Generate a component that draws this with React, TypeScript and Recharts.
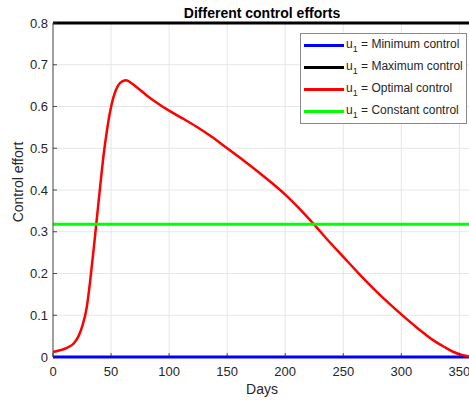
import { LineChart, Line, XAxis, YAxis, CartesianGrid } from 'recharts'

// control effort u1 over the season
const optimalDays = [0, 6, 12, 18, 22, 25, 29, 32, 35, 38, 41, 43.5, 46.5, 49, 52, 56, 60, 63, 67, 74, 81, 90, 100, 112, 124, 137, 150, 163, 176, 188, 200, 212, 224, 237, 250, 263, 276, 288, 300, 314, 327, 337, 345, 352, 357, 360]
const optimalValues = [0.012, 0.016, 0.022, 0.033, 0.05, 0.072, 0.118, 0.182, 0.258, 0.338, 0.418, 0.482, 0.543, 0.585, 0.622, 0.65, 0.661, 0.663, 0.657, 0.642, 0.626, 0.608, 0.59, 0.571, 0.551, 0.527, 0.5, 0.473, 0.445, 0.418, 0.389, 0.356, 0.32, 0.279, 0.24, 0.201, 0.164, 0.132, 0.102, 0.069, 0.041, 0.024, 0.012, 0.005, 0.002, 0]

const spanDays = [0, 360]
const minimumControl = 0
const maximumControl = 0.8
const constantControl = 0.318

const xTicks = [0, 50, 100, 150, 200, 250, 300, 350]
const yTicks = [0, 0.1, 0.2, 0.3, 0.4, 0.5, 0.6, 0.7, 0.8]

const legendItems = [
    { label: 'Minimum control', color: '#0000ff' },
    { label: 'Maximum control', color: '#000000' },
    { label: 'Optimal control', color: '#ff0000' },
    { label: 'Constant control', color: '#00ff00' },
]

const optimalData = optimalDays.map((day, i) => ({ day, u: optimalValues[i] }))
const flat = (v: number) => spanDays.map(day => ({ day, u: v }))

const FONT = '"Liberation Sans", Arial, Helvetica, sans-serif'
const AXIS = '#262626'

const YTick = (props: any) => {
    const { x, y, payload } = props
    return (
        <g>
            <line x1={x} x2={x + 4} y1={y} y2={y} stroke={AXIS} strokeWidth={0.8} />
            <text x={x - 5} y={y} dy={4.5} textAnchor="end" fontSize={13} fill={AXIS} fontFamily={FONT}>
                {payload.value === 0 ? '0' : payload.value.toFixed(1)}
            </text>
        </g>
    )
}

const XTick = (props: any) => {
    const { x, y, payload } = props
    return (
        <g>
            <line x1={x} x2={x} y1={y} y2={y - 4} stroke={AXIS} strokeWidth={0.8} />
            <text x={x} y={y} dy={19} textAnchor="middle" fontSize={13} fill={AXIS} fontFamily={FONT}>
                {payload.value}
            </text>
        </g>
    )
}

const LegendBox = () => (
    <div
        style={{
            position: 'absolute',
            left: 300,
            top: 33,
            width: 165,
            height: 89,
            border: '1px solid #8a8a8a',
            background: '#fff',
            fontFamily: FONT,
            fontSize: 12,
            color: AXIS,
        }}
    >
        {legendItems.map((item, i) => (
            <div key={i} style={{ position: 'relative', height: 22, marginTop: i === 0 ? 0.5 : 0 }}>
                <div style={{ position: 'absolute', left: 3, top: 9.5, width: 40, height: 2.5, background: item.color }} />
                <div style={{ position: 'absolute', left: 45, top: 1, whiteSpace: 'nowrap', lineHeight: '16px' }}>
                    u<span style={{ fontSize: 9, position: 'relative', top: 4 }}>1</span> = {item.label}
                </div>
            </div>
        ))}
    </div>
)

export default function App() {
    return (
        <div style={{ position: 'absolute', left: 0, top: 0, width: 469, height: 401, overflow: 'hidden', background: '#fff' }}>
            <div style={{ position: 'absolute', left: 0, top: 0, fontFamily: FONT }}>
                <LineChart width={474} height={401} margin={{ top: 23, right: 3, left: 0, bottom: 0 }}>
                    <CartesianGrid stroke="#e6e6e6" strokeWidth={1} />
                    <XAxis
                        type="number"
                        dataKey="day"
                        domain={[0, 360]}
                        ticks={xTicks}
                        height={44}
                        axisLine={false}
                        tickLine={false}
                        tickSize={0}
                        tickMargin={0}
                        tick={<XTick />}
                        label={{
                            content: () => (
                                <text x={262} y={394} textAnchor="middle" fontSize={14} fill={AXIS} fontFamily={FONT}>
                                    Days
                                </text>
                            ),
                        }}
                    />
                    <YAxis
                        type="number"
                        domain={[0, 0.8]}
                        ticks={yTicks}
                        width={53}
                        axisLine={{ stroke: '#4d4d4d', strokeWidth: 1 }}
                        tickLine={false}
                        tickSize={0}
                        tickMargin={0}
                        tick={<YTick />}
                        label={{
                            content: () => (
                                <text
                                    x={23}
                                    y={182}
                                    transform="rotate(-90 23 182)"
                                    textAnchor="middle"
                                    fontSize={14}
                                    fill={AXIS}
                                    fontFamily={FONT}
                                >
                                    Control effort
                                </text>
                            ),
                        }}
                    />
                    <Line data={flat(minimumControl)} dataKey="u" stroke="#0000ff" strokeWidth={3} dot={false} isAnimationActive={false} />
                    <Line data={flat(maximumControl)} dataKey="u" stroke="#000000" strokeWidth={3} dot={false} isAnimationActive={false} />
                    <Line data={optimalData} dataKey="u" type="monotone" stroke="#ff0000" strokeWidth={2.5} dot={false} isAnimationActive={false} />
                    <Line data={flat(constantControl)} dataKey="u" stroke="#00ff00" strokeWidth={3} dot={false} isAnimationActive={false} />
                </LineChart>
                <LegendBox />
                <div
                    style={{
                        position: 'absolute',
                        left: 53,
                        width: 418,
                        top: 5,
                        textAlign: 'center',
                        fontSize: 14,
                        fontWeight: 'bold',
                        color: '#000',
                    }}
                >
                    Different control efforts
                </div>
            </div>
        </div>
    )
}
